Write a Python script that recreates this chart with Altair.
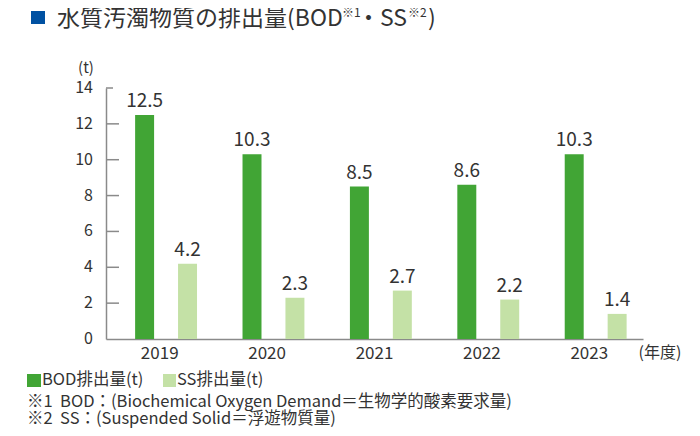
import altair as alt
import pandas as pd

years = ["2019", "2020", "2021", "2022", "2023"]
bod = [12.5, 10.3, 8.5, 8.6, 10.3]
ss = [4.2, 2.3, 2.7, 2.2, 1.4]
series = ["BOD排出量(t)", "SS排出量(t)"]
yticks = [0, 2, 4, 6, 8, 10, 12, 14]
title_main = "水質汚濁物質の排出量(BOD"
notes = ["※1\u00a0\u00a0BOD：(Biochemical Oxygen Demand＝生物学的酸素要求量)",
         "※2\u00a0\u00a0SS：(Suspended Solid＝浮遊物質量)"]

GREEN = "#41a535"
LIGHT = "#c4e1a6"
TXT = "#333333"
AX = "#8a8a8a"
FONT = "Noto Sans CJK JP"

rows = []
for i, y in enumerate(years):
    rows.append({"year": y, "series": series[0], "value": bod[i]})
    rows.append({"year": y, "series": series[1], "value": ss[i]})
df = pd.DataFrame(rows)

xenc = alt.X("year:N", sort=years,
             scale=alt.Scale(paddingInner=0, paddingOuter=0),
             axis=alt.Axis(title=None, labelAngle=0, ticks=False, domainColor=AX,
                           domainWidth=1.5, labelFontSize=17, labelColor=TXT,
                           labelPadding=6, labelFont=FONT))
xoff = alt.XOffset("series:N", sort=series,
                   scale=alt.Scale(paddingInner=0.558, paddingOuter=0.53, align=0.64))
yenc = alt.Y("value:Q", scale=alt.Scale(domain=[0, 14], nice=False),
             axis=alt.Axis(title=None, values=yticks, ticks=False, grid=False,
                           labels=False, domainColor=AX, domainWidth=1.5))
cenc = alt.Color("series:N", scale=alt.Scale(domain=series, range=[GREEN, LIGHT]), legend=None)

base = alt.Chart(df)
bars = base.mark_bar().encode(x=xenc, xOffset=xoff, y=yenc, color=cenc)
labels = base.mark_text(baseline="bottom", dy=-4, fontSize=19, color=TXT, font=FONT).encode(
    x=alt.X("year:N", sort=years), xOffset=alt.XOffset("series:N", sort=series),
    y=alt.Y("value:Q"), text=alt.Text("value:Q", format=".1f"))

tickdf = pd.DataFrame({"value": yticks})
ticks = alt.Chart(tickdf).transform_filter("datum.value > 0 && datum.value < 14").mark_rule(
    color=AX, strokeWidth=1.5).encode(y=alt.Y("value:Q"), x=alt.value(0), x2=alt.value(13))
toptick = alt.Chart(tickdf).transform_filter("datum.value == 14").mark_rule(
    color=AX, strokeWidth=1.5).encode(y=alt.Y("value:Q"), x=alt.value(0), x2=alt.value(7))
ylabels = alt.Chart(tickdf).mark_text(align="right", baseline="middle", fontSize=16,
                                      color=TXT, font=FONT).encode(
    y=alt.Y("value:Q"), x=alt.value(-13), text=alt.Text("value:Q", format="d"))

def txt(s, x, y, size, align="left", baseline="middle", color=TXT):
    return alt.Chart(pd.DataFrame({"t": [s]})).mark_text(
        align=align, baseline=baseline, fontSize=size, color=color, font=FONT).encode(
        text="t:N", x=alt.value(x), y=alt.value(y))

def box(x, x2, y, y2, color):
    return alt.Chart(pd.DataFrame({"a": [0]})).mark_rect(color=color).encode(
        x=alt.value(x), x2=alt.value(x2), y=alt.value(y), y2=alt.value(y2))

layers = [
    bars, labels, ticks, toptick, ylabels,
    box(-75, -61, -77, -64, "#0051a2"),
    txt(title_main, -49, -69.5, 23),
    txt("※1", 236, -75, 12),
    txt("・SS", 251, -69.5, 23),
    txt("※2", 302, -75, 12),
    txt(")", 322, -69.5, 23),
    txt("(t)", -20, -20, 15, align="center"),
    txt("(年度)", 554, 265, 16, align="center"),
    box(-79, -65, 286, 299, GREEN),
    txt(series[0], -64, 292, 16.5),
    box(57, 70, 286, 299, LIGHT),
    txt(series[1], 71, 292, 16.5),
    txt(notes[0], -79, 314, 16.5),
    txt(notes[1], -79, 331, 16.5),
]

chart = alt.layer(*layers).properties(
    width=537, height=251,
    autosize=alt.AutoSizeParams(type="none"),
    padding={"left": 98, "top": 80, "right": 46, "bottom": 89},
).configure_view(stroke=None)

chart.save("out.html", embed_options={"renderer": "svg", "actions": False})
